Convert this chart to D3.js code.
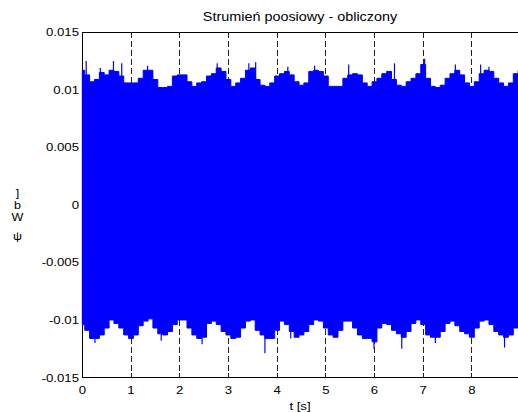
<!DOCTYPE html>
<head>
  <meta charset="utf-8">
  <style>
    body { margin: 0; background: #fff; }
    text { font-family: 'Liberation Sans', Arial, Helvetica, sans-serif; fill: #000; }
  </style>
</head>

<body>
  <script src="https://cdn.jsdelivr.net/npm/d3@7"></script>

  <script>
    // figure size and axes box (MATLAB style)
    const width = 518;
    const height = 412;
    const box = {left: 82.3, top: 32.3, bottom: 377.5, right: 520.6};
    const stretch = 1.2;   // exported glyphs are wider than normal

    // sample times of the envelope readings [s]
    const times = [
      0.0, 0.1, 0.2, 0.3, 0.4, 0.5, 0.6, 0.7, 0.8, 0.9,
      1.0, 1.1, 1.2, 1.3, 1.4, 1.5, 1.6, 1.7, 1.8, 1.9,
      2.0, 2.1, 2.2, 2.3, 2.4, 2.5, 2.6, 2.7, 2.8, 2.9,
      3.0, 3.1, 3.2, 3.3, 3.4, 3.5, 3.6, 3.7, 3.8, 3.9,
      4.0, 4.1, 4.2, 4.3, 4.4, 4.5, 4.6, 4.7, 4.8, 4.9,
      5.0, 5.1, 5.2, 5.3, 5.4, 5.5, 5.6, 5.7, 5.8, 5.9,
      6.0, 6.1, 6.2, 6.3, 6.4, 6.5, 6.6, 6.7, 6.8, 6.9,
      7.0, 7.1, 7.2, 7.3, 7.4, 7.5, 7.6, 7.7, 7.8, 7.9,
      8.0, 8.1, 8.2, 8.3, 8.4, 8.5, 8.6, 8.7, 8.8, 8.9, 9.0
    ];
    // upper envelope of the flux signal [Wb]
    const upper = [
      0.0117, 0.0113, 0.0107, 0.0109, 0.0115, 0.0113, 0.0117, 0.0116, 0.0112, 0.0106,
      0.0106, 0.0106, 0.0110, 0.0117, 0.0117, 0.0109, 0.0102, 0.0102, 0.0103, 0.0112,
      0.0113, 0.0113, 0.0107, 0.0103, 0.0106, 0.0107, 0.0112, 0.0114, 0.0119, 0.0116,
      0.0109, 0.0103, 0.0106, 0.0110, 0.0117, 0.0119, 0.0109, 0.0104, 0.0103, 0.0106,
      0.0112, 0.0114, 0.0116, 0.0113, 0.0107, 0.0104, 0.0106, 0.0116, 0.0117, 0.0116,
      0.0112, 0.0103, 0.0103, 0.0103, 0.0110, 0.0113, 0.0114, 0.0113, 0.0106, 0.0103,
      0.0107, 0.0110, 0.0114, 0.0116, 0.0109, 0.0104, 0.0103, 0.0107, 0.0110, 0.0114,
      0.0122, 0.0110, 0.0103, 0.0102, 0.0104, 0.0110, 0.0114, 0.0117, 0.0113, 0.0106,
      0.0103, 0.0107, 0.0114, 0.0117, 0.0116, 0.0110, 0.0106, 0.0103, 0.0106, 0.0114, 0.0117
    ];
    // lower envelope of the flux signal [Wb]
    const lower = [
      -0.0104, -0.0109, -0.0116, -0.0116, -0.0113, -0.0107, -0.0100, -0.0103, -0.0107, -0.0113,
      -0.0116, -0.0113, -0.0105, -0.0101, -0.0099, -0.0107, -0.0112, -0.0113, -0.0110, -0.0104,
      -0.0100, -0.0100, -0.0107, -0.0113, -0.0116, -0.0115, -0.0103, -0.0101, -0.0104, -0.0110,
      -0.0113, -0.0116, -0.0115, -0.0107, -0.0101, -0.0100, -0.0109, -0.0113, -0.0116, -0.0116,
      -0.0109, -0.0101, -0.0104, -0.0110, -0.0115, -0.0113, -0.0110, -0.0104, -0.0100, -0.0101,
      -0.0107, -0.0113, -0.0115, -0.0109, -0.0101, -0.0101, -0.0107, -0.0113, -0.0116, -0.0116,
      -0.0119, -0.0107, -0.0103, -0.0104, -0.0109, -0.0112, -0.0115, -0.0110, -0.0103, -0.0100,
      -0.0104, -0.0113, -0.0115, -0.0115, -0.0110, -0.0103, -0.0101, -0.0105, -0.0110, -0.0112,
      -0.0115, -0.0107, -0.0101, -0.0100, -0.0104, -0.0110, -0.0113, -0.0115, -0.0113, -0.0107, -0.0104
    ];
    // single tall spikes visible above / below the envelope
    const spikeTimes = [0.08, 0.37, 0.64, 0.81, 1.34, 2.77, 3.42, 3.56, 4.22, 4.77, 5.47, 6.41, 7.03, 7.66, 8.18, 8.35,
                        0.26, 1.62, 2.46, 3.75, 4.28, 5.99, 6.56, 7.25, 8.67];
    const spikeValues = [0.0125, 0.0119, 0.0125, 0.0123, 0.0121, 0.0123, 0.0123, 0.0124, 0.0120, 0.0121, 0.0122, 0.0123, 0.0127, 0.0122, 0.0122, 0.0120,
                         -0.0120, -0.0118, -0.0121, -0.0129, -0.0116, -0.0125, -0.0125, -0.0120, -0.0124];

    const xTicks = [0, 1, 2, 3, 4, 5, 6, 7, 8];
    const yTicks = [-0.015, -0.01, -0.005, 0, 0.005, 0.01, 0.015];
    const yTickLabels = ['-0.015', '-0.01', '-0.005', '0', '0.005', '0.01', '0.015'];
    const title = 'Strumień poosiowy - obliczony';
    const xLabel = 't [s]';
    const yLabelChars = [']', 'b', 'W', 'ψ'];   // exported vertically, glyphs not rotated

    const svg = d3.select("body").append("svg")
      .attr("width", width)
      .attr("height", height);

    const x = d3.scaleLinear().domain([0, 9]).range([box.left, box.right]);
    const y = d3.scaleLinear().domain([-0.015, 0.015]).range([box.bottom, box.top]);

    // axes box and inward ticks (drawn under the data, like MATLAB)
    const axes = svg.append("g").attr("stroke", "#000").attr("shape-rendering", "crispEdges");
    axes.append("line").attr("x1", box.left).attr("x2", width).attr("y1", box.top).attr("y2", box.top);
    axes.append("line").attr("x1", box.left).attr("x2", width).attr("y1", box.bottom).attr("y2", box.bottom);
    axes.append("line").attr("x1", box.left).attr("x2", box.left).attr("y1", box.top).attr("y2", box.bottom);

    axes.selectAll(".xtick-b").data(xTicks).enter().append("line")
      .attr("x1", d => x(d)).attr("x2", d => x(d))
      .attr("y1", box.bottom).attr("y2", box.bottom - 5);
    axes.selectAll(".xtick-t").data(xTicks).enter().append("line")
      .attr("x1", d => x(d)).attr("x2", d => x(d))
      .attr("y1", box.top).attr("y2", box.top + 5);
    axes.selectAll(".ytick").data(yTicks).enter().append("line")
      .attr("x1", box.left).attr("x2", box.left + 5)
      .attr("y1", d => y(d)).attr("y2", d => y(d));

    // dashed vertical grid
    svg.append("g").selectAll("line").data(xTicks.slice(1)).enter().append("line")
      .attr("x1", d => x(d)).attr("x2", d => x(d))
      .attr("y1", box.top).attr("y2", box.bottom)
      .attr("stroke", "#222")
      .attr("stroke-width", 1)
      .attr("stroke-dasharray", "6,3")
      .attr("shape-rendering", "crispEdges");

    // flux signal: dense oscillation drawn as the band between its envelopes
    const band = times.map((t, i) => ({t: t, hi: upper[i], lo: lower[i]}));
    const area = d3.area()
      .x(d => x(d.t))
      .y0(d => y(d.lo))
      .y1(d => y(d.hi))
      .curve(d3.curveStep);
    svg.append("path")
      .datum(band)
      .attr("d", area)
      .attr("fill", "#0000ff")
      .attr("stroke", "#0000ff")
      .attr("stroke-width", 1);

    svg.append("g").selectAll("line").data(spikeTimes).enter().append("line")
      .attr("x1", d => x(d)).attr("x2", d => x(d))
      .attr("y1", y(0))
      .attr("y2", (d, i) => y(spikeValues[i]))
      .attr("stroke", "#0000ff")
      .attr("stroke-width", 1.2);

    // stretched text helper
    function label(g, px, py, size, anchor, str) {
      return g.append("text")
        .attr("transform", "translate(" + px + "," + py + ") scale(" + stretch + ",1)")
        .attr("text-anchor", anchor)
        .attr("font-size", size)
        .text(str);
    }

    // tick labels
    const tl = svg.append("g");
    xTicks.forEach(d => label(tl, x(d), 393.5, "11px", "middle", d));
    yTicks.forEach((d, i) => label(tl, 79, y(d) + 4, "11px", "end", yTickLabels[i]));

    // title and axis labels
    label(svg, 300, 20.7, "12px", "middle", title);
    label(svg, 300, 410, "11px", "middle", xLabel);
    const yLabelY = [197, 209, 220.5, 239.5];
    yLabelChars.forEach((c, i) => label(svg, 17.5, yLabelY[i], "10.5px", "middle", c));
  </script>
</body>
